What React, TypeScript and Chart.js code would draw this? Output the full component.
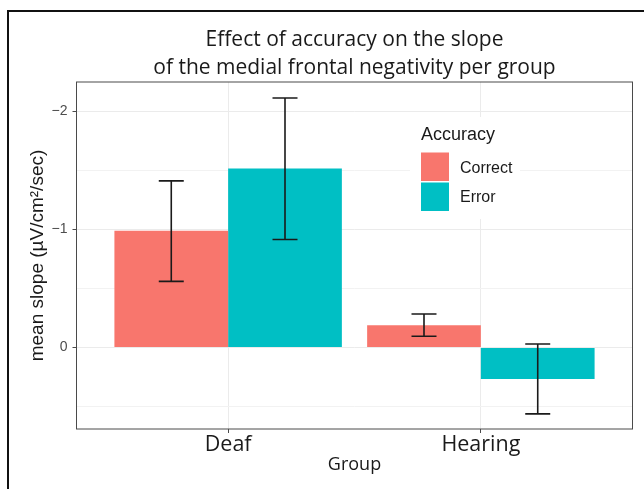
import React, { useEffect, useRef } from 'react';
import { Chart, registerables } from 'chart.js';

Chart.register(...registerables);

const categories = ['Deaf', 'Hearing'];
const seriesNames = ['Correct', 'Error'];
const correctMeans = [-0.989, -0.19];
const errorMeans = [-1.517, 0.266];
const correctLow = [-0.561, -0.096];
const correctHigh = [-1.412, -0.284];
const errorLow = [-0.916, -0.03];
const errorHigh = [-2.114, 0.562];
const seriesColors = ['#F8766D', '#00BFC4'];
const yTickValues = [-2, -1, 0];
const yTickLabels = ['−2', '−1', '0'];
const titleLines = ['Effect of accuracy on the slope', 'of the medial frontal negativity per group'];
const xTitle = 'Group';
const yTitle = 'mean slope (µV/cm²/sec)';
const legendTitle = 'Accuracy';

const TITLE_FONT = '"Open Sans", sans-serif';
const ARIAL = '"Liberation Sans", Arial, sans-serif';

export default function App() {
  const ref = useRef<HTMLCanvasElement>(null);

  useEffect(() => {
    const canvas = ref.current;
    if (!canvas) return;

    const means = [correctMeans, errorMeans];
    const lows = [correctLow, errorLow];
    const highs = [correctHigh, errorHigh];

    const decorPlugin = {
      id: 'decor',
      beforeDatasetsDraw(chart: any) {
        const { ctx } = chart;
        ctx.save();
        ctx.fillStyle = '#ffffff';
        ctx.fillRect(410, 117, 110, 102);
        ctx.fillStyle = '#1a1a1a';
        ctx.font = `18px ${ARIAL}`;
        ctx.textAlign = 'left';
        ctx.textBaseline = 'alphabetic';
        ctx.fillText(legendTitle, 421, 140);
        seriesNames.forEach((name, i) => {
          ctx.fillStyle = seriesColors[i];
          ctx.fillRect(421, 152.5 + i * 30, 28, 28.5);
          ctx.fillStyle = '#1a1a1a';
          ctx.font = `16px ${ARIAL}`;
          ctx.fillText(name, 460, 172.5 + i * 29.8);
        });
        ctx.restore();
      },
      afterDatasetsDraw(chart: any) {
        const { ctx, chartArea } = chart;
        const yScale = chart.scales.y;
        ctx.save();
        ctx.strokeStyle = '#1a1a1a';
        ctx.lineWidth = 1.6;
        chart.data.datasets.forEach((_ds: any, di: number) => {
          const meta = chart.getDatasetMeta(di);
          meta.data.forEach((bar: any, i: number) => {
            const x = bar.x;
            const y1 = yScale.getPixelForValue(lows[di][i]);
            const y2 = yScale.getPixelForValue(highs[di][i]);
            const hw = 12.5;
            ctx.beginPath();
            ctx.moveTo(x, y1);
            ctx.lineTo(x, y2);
            ctx.moveTo(x - hw, y1);
            ctx.lineTo(x + hw, y1);
            ctx.moveTo(x - hw, y2);
            ctx.lineTo(x + hw, y2);
            ctx.stroke();
          });
        });
        ctx.strokeStyle = '#4a4a4a';
        ctx.lineWidth = 1;
        ctx.strokeRect(chartArea.left, chartArea.top, chartArea.right - chartArea.left, chartArea.bottom - chartArea.top);
        ctx.restore();
      },
      afterDraw(chart: any) {
        const { ctx, chartArea } = chart;
        ctx.save();
        ctx.fillStyle = '#1a1a1a';
        ctx.font = `21px ${TITLE_FONT}`;
        ctx.textAlign = 'center';
        ctx.textBaseline = 'alphabetic';
        const cx = (chartArea.left + chartArea.right) / 2;
        ctx.fillText(titleLines[0], cx, 46);
        ctx.fillText(titleLines[1], cx, 73.5);
        const cy = (chartArea.top + chartArea.bottom) / 2;
        ctx.translate(43, cy);
        ctx.rotate(-Math.PI / 2);
        ctx.font = `19px ${ARIAL}`;
        ctx.fillText(yTitle, 0, 0);
        ctx.restore();
      },
    };

    const chart = new Chart(canvas, {
      type: 'bar',
      data: {
        datasets: seriesNames.map((name, di) => ({
          label: name,
          data: categories.map((_c, i) => ({ x: i, y: means[di][i] })),
          backgroundColor: seriesColors[di],
          borderWidth: 0,
          categoryPercentage: 0.9,
          barPercentage: 1.0,
        })),
      },
      options: {
        responsive: false,
        animation: false,
        layout: { padding: { top: 82, left: 0, right: 11.5, bottom: 15 } },
        plugins: {
          legend: { display: false },
          title: { display: false },
          tooltip: { enabled: false },
        },
        scales: {
          x: {
            type: 'linear',
            min: -0.6,
            max: 1.6,
            offset: false,
            afterBuildTicks: (s: any) => {
              s.ticks = categories.map((_c, i) => ({ value: i }));
            },
            afterFit: (s: any) => {
              s.height = 45;
            },
            ticks: {
              autoSkip: false,
              padding: 1,
              color: '#1a1a1a',
              font: { family: TITLE_FONT, size: 21.5, lineHeight: 1 },
              callback: (v: any) => categories[v] ?? '',
            },
            grid: {
              offset: false,
              color: '#EBEBEB',
              lineWidth: 1,
              tickColor: '#4a4a4a',
              tickLength: 4,
            },
            border: { display: false },
            title: {
              display: true,
              text: xTitle,
              color: '#1a1a1a',
              font: { family: TITLE_FONT, size: 18, lineHeight: 1 },
              padding: { top: 0, bottom: 0 },
            },
          },
          y: {
            type: 'linear',
            reverse: true,
            min: -2.25,
            max: 0.69,
            afterFit: (s: any) => {
              s.width = 76.5;
            },
            ticks: {
              stepSize: 0.5,
              includeBounds: false,
              autoSkip: false,
              padding: 5,
              color: '#4d4d4d',
              font: { family: ARIAL, size: 14 },
              callback: (v: any) => {
                const idx = yTickValues.findIndex((t) => Math.abs(t - v) < 1e-6);
                return idx >= 0 ? yTickLabels[idx] : '';
              },
            },
            grid: {
              color: (c: any) => {
                const v = c.tick ? c.tick.value : 0;
                return yTickValues.some((t) => Math.abs(t - v) < 1e-6) ? '#EBEBEB' : '#F2F2F2';
              },
              lineWidth: 1,
              tickColor: (c: any) => {
                const v = c.tick ? c.tick.value : 0;
                return yTickValues.some((t) => Math.abs(t - v) < 1e-6) ? '#4a4a4a' : 'rgba(0,0,0,0)';
              },
              tickLength: 4,
            },
            border: { display: false },
          },
        },
      },
      plugins: [decorPlugin],
    } as any);

    return () => chart.destroy();
  }, []);

  return (
    <div
      style={{
        position: 'fixed',
        left: 0,
        top: 0,
        width: 644,
        height: 489,
        background: '#ffffff',
        overflow: 'hidden',
      }}
    >
      <canvas
        ref={ref}
        width={644}
        height={489}
        style={{ position: 'absolute', left: 0, top: 0, width: 644, height: 489 }}
      />
      <div
        style={{
          position: 'absolute',
          left: 6.5,
          top: 9.5,
          width: 800,
          height: 800,
          borderLeft: '2.6px solid #111',
          borderTop: '2.6px solid #111',
          pointerEvents: 'none',
        }}
      />
    </div>
  );
}
